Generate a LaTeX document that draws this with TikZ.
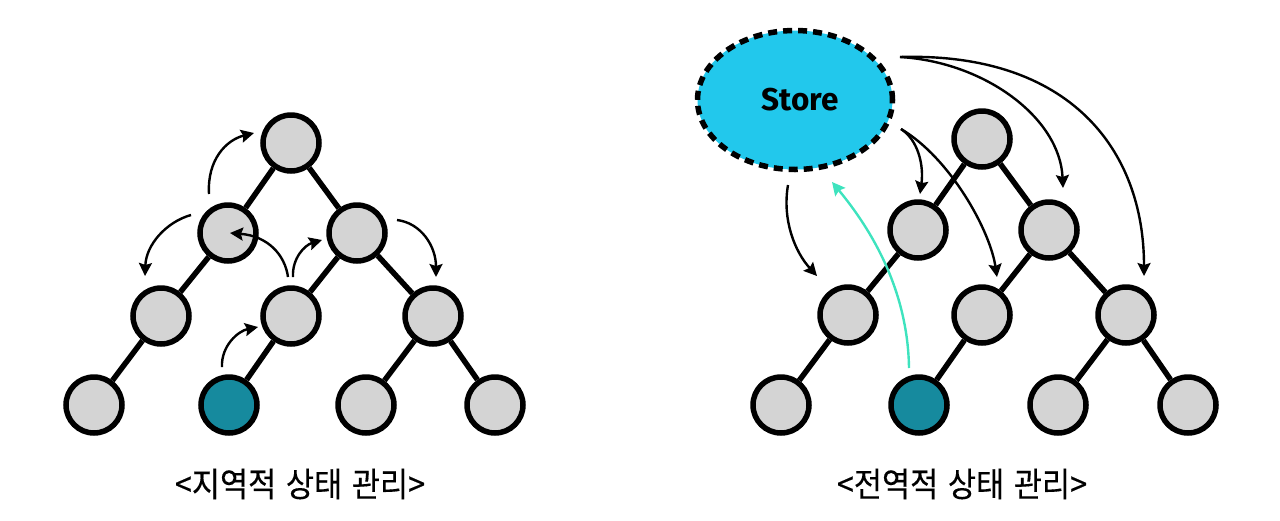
\documentclass[tikz,border=0pt]{standalone}
\usepackage{fontspec}
\usetikzlibrary{arrows.meta,shapes.geometric}
\newfontfamily\krfont{Noto Sans CJK KR}[WordSpace=1.4,FakeStretch=0.9,FakeBold=0.3]
\newfontfamily\storefont{Fira Sans}
\definecolor{ngray}{HTML}{D4D4D4}
\definecolor{nteal}{HTML}{168A9E}
\definecolor{scyan}{HTML}{22C8EC}
\definecolor{aqua}{HTML}{3EE3BE}
\begin{document}
\begin{tikzpicture}[x=1pt,y=-1pt,
  nd/.style={circle,draw=black,line width=5.5pt,fill=ngray,minimum size=56pt,inner sep=0pt},
  hot/.style={nd,fill=nteal},
  edge/.style={line width=5.5pt},
  flow/.style={line width=2.4pt,-{Stealth[length=13pt,width=13pt,inset=2pt]}},
  upflow/.style={flow,draw=aqua},
  lbl/.style={font=\krfont\fontsize{34}{38}\selectfont,inner sep=0pt},
  store/.style={ellipse,draw=black,line width=5.5pt,dash pattern=on 9pt off 6pt,fill=scyan,minimum width=195pt,minimum height=139pt,inner sep=0pt},
  storetext/.style={inner sep=0pt,font=\storefont\bfseries\fontsize{31.5}{36}\selectfont}]
\useasboundingbox (0,0) rectangle (1280,520);

% ---------- left tree ----------
\node[nd] (Lr) at (291,143) {};
\node[nd] (La) at (228,233) {};
\node[nd] (Lb) at (357,233) {};
\node[nd] (Lc) at (161,316) {};
\node[nd] (Ld) at (291,316) {};
\node[nd] (Le) at (433,316) {};
\node[nd] (Lf) at (94,405) {};
\node[hot] (Lg) at (229,405) {};
\node[nd] (Lh) at (366,405) {};
\node[nd] (Li) at (495,405) {};
\draw[edge] (Lr) -- (La);
\draw[edge] (Lr) -- (Lb);
\draw[edge] (La) -- (Lc);
\draw[edge] (Lb) -- (Ld);
\draw[edge] (Lb) -- (Le);
\draw[edge] (Lc) -- (Lf);
\draw[edge] (Ld) -- (Lg);
\draw[edge] (Le) -- (Lh);
\draw[edge] (Le) -- (Li);

\coordinate (a1) at (209,194); \coordinate (a2) at (254,133);
\coordinate (b1) at (191,215); \coordinate (b2) at (145,276);
\coordinate (c1) at (397,220); \coordinate (c2) at (436,277);
\coordinate (d1) at (288,277); \coordinate (d2) at (230,233);
\coordinate (e1) at (293,277); \coordinate (e2) at (322,240);
\coordinate (f1) at (222,367); \coordinate (f2) at (258,327);
\draw[flow] (a1) .. controls (207,160) and (226,140) .. (a2);
\draw[flow] (b1) .. controls (166,222) and (146,245) .. (b2);
\draw[flow] (c1) .. controls (421,223) and (436,246) .. (c2);
\draw[flow] (d1) .. controls (285,255) and (268,236) .. (d2);
\draw[flow] (e1) .. controls (292,258) and (305,245) .. (e2);
\draw[flow] (f1) .. controls (221,346) and (238,331) .. (f2);

\node[lbl] (cap1) at (300,484) {<지역적 상태 관리>};

% ---------- right tree ----------
\node[nd] (Rr) at (982,139) {};
\node[nd] (Ra) at (918,230) {};
\node[nd] (Rb) at (1049,230) {};
\node[nd] (Rc) at (848,315) {};
\node[nd] (Rd) at (982,315) {};
\node[nd] (Re) at (1126,315) {};
\node[nd] (Rf) at (781,405) {};
\node[hot] (Rg) at (919,405) {};
\node[nd] (Rh) at (1058,405) {};
\node[nd] (Ri) at (1188,405) {};
\draw[edge] (Rr) -- (Ra);
\draw[edge] (Rr) -- (Rb);
\draw[edge] (Ra) -- (Rc);
\draw[edge] (Rb) -- (Rd);
\draw[edge] (Rb) -- (Re);
\draw[edge] (Rc) -- (Rf);
\draw[edge] (Rd) -- (Rg);
\draw[edge] (Re) -- (Rh);
\draw[edge] (Re) -- (Ri);

\node[store] (S) at (795,100) {};
\node[storetext] (St) at (800,100) {Store};

\coordinate (s1) at (788,185); \coordinate (t1) at (817,276);
\coordinate (s2) at (909,368); \coordinate (t2) at (832,182);
\coordinate (s3) at (901,129); \coordinate (t3) at (920,194);
\coordinate (t4) at (997,277);
\coordinate (s5) at (900,57); \coordinate (t5) at (1063,188);
\coordinate (t6) at (1144,276);
\draw[flow] (s1) .. controls (782,220) and (795,252) .. (t1);
\draw[upflow] (s2) .. controls (908,300) and (880,240) .. (t2);
\draw[flow] (s3) .. controls (918,140) and (924,165) .. (t3);
\draw[flow] (s3) .. controls (950,158) and (990,230) .. (t4);
\draw[flow] (s5) .. controls (985,62) and (1060,118) .. (t5);
\draw[flow] (s5) .. controls (1070,52) and (1144,150) .. (t6);

\node[lbl] (cap2) at (962,484) {<전역적 상태 관리>};
\end{tikzpicture}
\end{document}
